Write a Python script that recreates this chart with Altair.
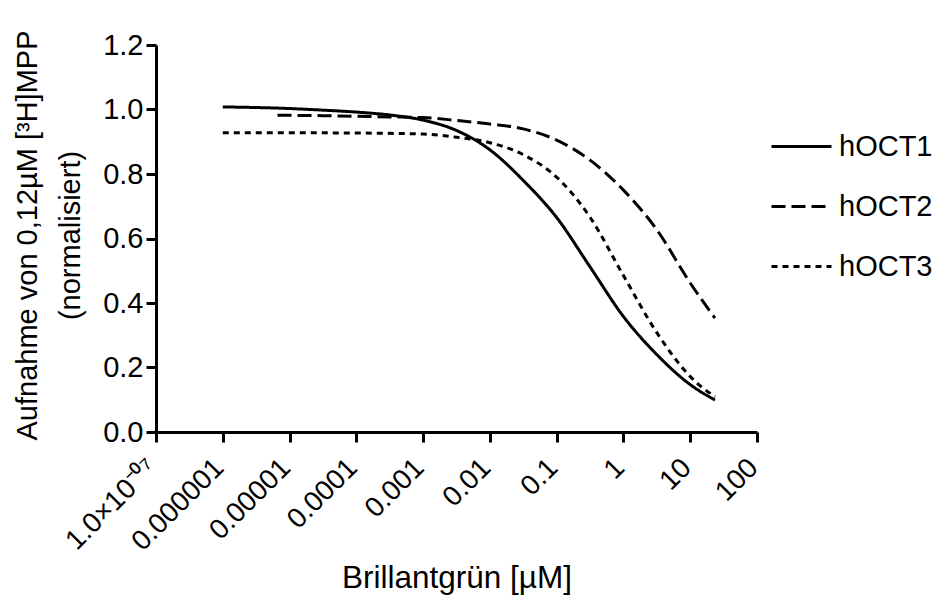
import altair as alt
import pandas as pd

# Curve readings: log10 of concentration (µM) and normalised uptake
hoct1_log = [-6.0, -5.0, -4.5, -4.0, -3.5, -3.0, -2.5, -2.0, -1.5, -1.0, -0.5, 0.0, 0.5, 1.0, 1.37]
hoct1_val = [1.008, 1.003, 0.998, 0.992, 0.983, 0.967, 0.935, 0.875, 0.780, 0.665, 0.512, 0.358, 0.240, 0.147, 0.099]

hoct2_log = [-5.18, -4.5, -4.0, -3.5, -3.0, -2.5, -2.0, -1.5, -1.0, -0.5, 0.0, 0.5, 1.0, 1.37]
hoct2_val = [0.982, 0.981, 0.979, 0.977, 0.975, 0.966, 0.955, 0.940, 0.905, 0.843, 0.750, 0.627, 0.462, 0.353]

hoct3_log = [-6.0, -5.0, -4.0, -3.5, -3.0, -2.5, -2.0, -1.5, -1.0, -0.5, 0.0, 0.5, 1.0, 1.37]
hoct3_val = [0.928, 0.928, 0.927, 0.926, 0.924, 0.914, 0.897, 0.860, 0.790, 0.666, 0.485, 0.308, 0.172, 0.109]

series_names = ["hOCT1", "hOCT2", "hOCT3"]

x_tick_values = [1e-7, 1e-6, 1e-5, 1e-4, 1e-3, 1e-2, 1e-1, 1, 10, 100]
x_tick_labels = ["1.0×10⁻⁰⁷", "0.000001", "0.00001", "0.0001", "0.001",
                 "0.01", "0.1", "1", "10", "100"]
y_tick_values = [0.0, 0.2, 0.4, 0.6, 0.8, 1.0, 1.2]

rows = []
for name, logs, vals in zip(series_names,
                            [hoct1_log, hoct2_log, hoct3_log],
                            [hoct1_val, hoct2_val, hoct3_val]):
    for i, (lx, v) in enumerate(zip(logs, vals)):
        rows.append({"series": name, "conc": 10 ** lx, "value": v, "order": i})
df = pd.DataFrame(rows)

label_array = "[" + ",".join("'" + s + "'" for s in x_tick_labels) + "]"
label_expr = label_array + "[round(log(datum.value)/LN10)+7]"

FONT = "Liberation Sans"

chart = alt.Chart(df).mark_line(
    interpolate="monotone", strokeWidth=3, color="black"
).encode(
    x=alt.X("conc:Q",
            scale=alt.Scale(type="log", domain=[1e-7, 100], nice=False),
            axis=alt.Axis(values=x_tick_values, labelExpr=label_expr,
                          labelAngle=-45, labelAlign="right",
                          labelBaseline="alphabetic",
                          labelFontSize=28, labelFont=FONT,
                          labelColor="black", labelPadding=27, labelOffset=2,
                          labelOverlap=False, labelFlush=False,
                          tickSize=10, tickWidth=3, tickColor="black",
                          domainWidth=3, domainColor="black", grid=False,
                          title="Brillantgrün [µM]", titleFont=FONT,
                          titleFontSize=31.5, titleFontWeight="normal",
                          titleColor="black", titleY=155,
                          titleBaseline="alphabetic")),
    y=alt.Y("value:Q",
            scale=alt.Scale(domain=[0, 1.2], nice=False),
            axis=alt.Axis(values=y_tick_values, format=".1f",
                          labelFontSize=29, labelFont=FONT, labelColor="black",
                          labelPadding=3, tickSize=10, tickWidth=3,
                          tickColor="black", domainWidth=3,
                          domainColor="black", grid=False,
                          title=["Aufnahme von 0,12µM [³H]MPP", "(normalisiert)"],
                          titleFont=FONT, titleFontSize=29,
                          titleFontWeight="normal", titleColor="black",
                          titleLineHeight=43, titleX=-120, titleY=190,
                          titleBaseline="alphabetic")),
    strokeDash=alt.StrokeDash(
        "series:N",
        scale=alt.Scale(domain=series_names, range=[[1, 0], [14, 6], [6, 5]]),
        legend=alt.Legend(title=None, orient="none", legendX=614, legendY=70,
                          symbolType="stroke", symbolSize=3600,
                          symbolStrokeWidth=3, symbolStrokeColor="black",
                          labelFontSize=29, labelFont=FONT, labelColor="black",
                          labelOffset=6, rowPadding=13, padding=0)),
    order="order:Q",
).properties(
    width=601, height=387,
    padding={"left": 148, "top": 37, "right": 180, "bottom": 163},
    autosize=alt.AutoSizeParams(type="none"),
).configure_view(stroke=None)

chart.save("out.html", embed_options={"renderer": "svg", "actions": False})
